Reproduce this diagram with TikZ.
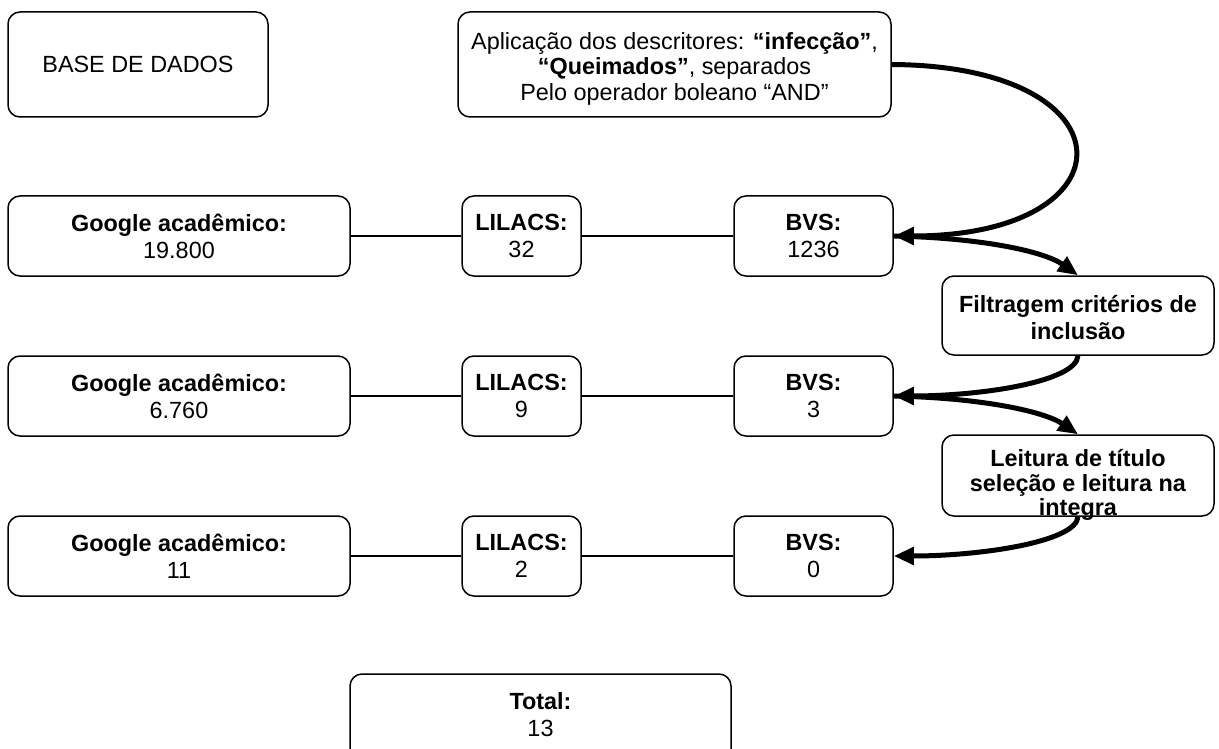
\documentclass[tikz,border=0pt]{standalone}
\usepackage{fontspec}
\setmainfont{Liberation Sans}
\usetikzlibrary{arrows.meta}
\begin{document}
\begin{tikzpicture}[x=1pt,y=-1pt,
  box/.style={draw, line width=1.5pt, rounded corners=12pt, inner sep=0pt, align=center,
    font=\fontsize{23.4}{27}\selectfont},
  txt/.style={inner sep=0pt, align=center, font=\fontsize{23.4}{27}\selectfont},
  link/.style={line width=1.5pt},
  flow/.style={line width=5pt, -{Triangle[length=20pt,width=17pt]}}]
\useasboundingbox (0,0) rectangle (1219,749);
% header boxes
\node[box, minimum width=260, minimum height=105] (base) at (138,64.5) {BASE DE DADOS};
\node[box, minimum width=433, minimum height=105] (apl) at (674.5,64.5) {};
\node[txt, font=\fontsize{23.4}{25.5}\selectfont] (aplT) at (674.5,68.5)
  {Aplicação dos descritores: \textbf{“infecção”},\\ \textbf{“Queimados”}, separados\\ Pelo operador boleano “AND”};
% row 1
\node[box, minimum width=342, minimum height=80] (g1) at (179,236) {\textbf{Google acadêmico:}\\19.800};
\node[box, minimum width=119, minimum height=80] (l1) at (521.5,236) {\textbf{LILACS:}\\32};
\node[box, minimum width=159, minimum height=80] (b1) at (813.5,236) {\textbf{BVS:}\\1236};
% filter
\node[box, minimum width=272, minimum height=79] (filt) at (1078,315.5) {};
\node[txt] (filtT) at (1078,318) {\textbf{Filtragem critérios de}\\\textbf{inclusão}};
% row 2
\node[box, minimum width=342, minimum height=80] (g2) at (179,396) {\textbf{Google acadêmico:}\\6.760};
\node[box, minimum width=119, minimum height=80] (l2) at (521.5,396) {\textbf{LILACS:}\\9};
\node[box, minimum width=159, minimum height=80] (b2) at (813.5,396) {\textbf{BVS:}\\3};
% reading
\node[box, minimum width=272, minimum height=81] (leit) at (1078,475.5) {};
\node[txt, font=\fontsize{23.4}{24.5}\selectfont] (leitT) at (1078,485)
  {\textbf{Leitura de título}\\\textbf{seleção e leitura na}\\\textbf{integra}};
% row 3
\node[box, minimum width=342, minimum height=80] (g3) at (179,556) {\textbf{Google acadêmico:}\\11};
\node[box, minimum width=119, minimum height=80] (l3) at (521.5,556) {\textbf{LILACS:}\\2};
\node[box, minimum width=159, minimum height=80] (b3) at (813.5,556) {\textbf{BVS:}\\0};
% total
\node[box, minimum width=381, minimum height=110] (tot) at (540.5,729) {};
\node[txt] (totT) at (540.5,715) {\textbf{Total:}\\13};
% connectors
\draw[link] (g1) -- (l1); \draw[link] (l1) -- (b1);
\draw[link] (g2) -- (l2); \draw[link] (l2) -- (b2);
\draw[link] (g3) -- (l3); \draw[link] (l3) -- (b3);
% flow arrows
\draw[flow] (apl.east) .. controls (1135,66) and (1135,236) .. (b1.east);
\draw[flow] (b1.east) .. controls (985,238) and (1045,252) .. (filt.north);
\draw[flow] (filt.south) .. controls (1076,382) and (980,396) .. (b2.east);
\draw[flow] (b2.east) .. controls (985,398) and (1045,412) .. (leit.north);
\draw[flow] (leit.south) .. controls (1076,542) and (980,556) .. (b3.east);
\end{tikzpicture}
\end{document}
